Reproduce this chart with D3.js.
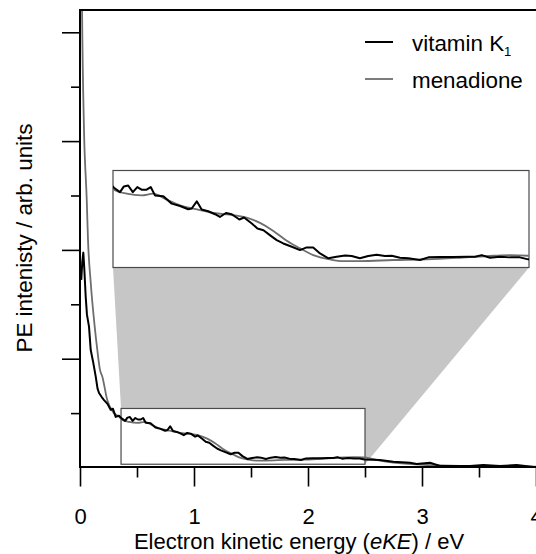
<!DOCTYPE html>
<meta charset="utf-8">
<style>
body { margin: 0; background: #fff; }
text { font-family: "Liberation Sans", Arial, sans-serif; }
.line { fill: none; stroke-linejoin: round; }
</style>
<svg width="536" height="554"></svg>
<script src="https://d3js.org/d3.v7.min.js"></script>
<script>

// vitamin K1 spectrum, [eKE / eV, intensity]
var vitK1 = [
  [0.011, 3.45], [0.020, 3.78], [0.029, 3.95], [0.038, 3.64], [0.050, 3.14], [0.061, 2.81],
  [0.079, 2.59], [0.094, 2.16], [0.117, 1.92], [0.138, 1.67], [0.154, 1.45], [0.167, 1.37],
  [0.189, 1.30], [0.211, 1.24], [0.241, 1.17], [0.269, 1.06], [0.289, 1.08], [0.313, 0.93],
  [0.342, 0.95],
  [0.365, 0.903], [0.396, 0.857], [0.416, 0.917], [0.438, 0.927], [0.462, 0.857], [0.485, 0.91],
  [0.507, 0.882], [0.533, 0.882], [0.554, 0.91], [0.576, 0.822], [0.619, 0.812], [0.662, 0.735],
  [0.705, 0.71], [0.747, 0.675], [0.765, 0.683], [0.791, 0.759], [0.816, 0.672], [0.850, 0.654],
  [0.885, 0.623], [0.910, 0.594], [0.941, 0.636], [0.971, 0.623], [1.010, 0.567], [1.034, 0.588],
  [1.074, 0.525], [1.103, 0.472], [1.134, 0.454], [1.167, 0.402], [1.202, 0.349], [1.236, 0.314],
  [1.280, 0.279], [1.322, 0.244], [1.356, 0.272], [1.390, 0.272], [1.425, 0.209], [1.468, 0.157],
  [1.510, 0.174], [1.554, 0.188], [1.588, 0.181], [1.630, 0.157], [1.673, 0.181], [1.716, 0.195],
  [1.759, 0.181], [1.794, 0.184], [1.836, 0.163], [1.879, 0.157], [1.939, 0.139], [1.982, 0.167],
  [2.042, 0.17], [2.110, 0.17], [2.179, 0.174], [2.222, 0.174], [2.257, 0.191], [2.299, 0.163],
  [2.351, 0.174], [2.402, 0.167], [2.453, 0.167], [2.496, 0.146],
  [2.630, 0.138], [2.748, 0.107], [2.895, 0.088], [2.954, 0.064], [3.070, 0.088], [3.158, 0.028],
  [3.304, 0.028], [3.421, 0.028], [3.538, 0.046], [3.684, 0.028], [3.830, 0.046], [4.0, 0.004]
];

// menadione spectrum
var menadione = [
  [0.012, 10], [0.018, 8.43], [0.035, 6.22], [0.059, 4.93], [0.070, 4.19], [0.094, 3.40],
  [0.129, 2.59], [0.152, 2.16], [0.175, 1.80], [0.196, 1.67], [0.239, 1.24], [0.298, 1.00],
  [0.345, 0.93],
  [0.365, 0.882], [0.431, 0.84], [0.507, 0.822], [0.567, 0.84], [0.636, 0.777], [0.705, 0.717],
  [0.773, 0.682], [0.876, 0.636], [0.979, 0.612], [1.047, 0.588], [1.116, 0.531], [1.185, 0.447],
  [1.254, 0.342], [1.322, 0.262], [1.390, 0.191], [1.476, 0.146], [1.545, 0.128], [1.630, 0.128],
  [1.802, 0.139], [1.974, 0.146], [2.145, 0.163], [2.316, 0.184], [2.402, 0.191], [2.496, 0.184],
  [2.60, 0.14], [2.748, 0.088], [3.041, 0.046], [3.333, 0.028], [4.0, 0.015]
];

var xMajor = [0, 1, 2, 3, 4],
    xMinor = [0.5, 1.5, 2.5, 3.5],
    yMajor = [2, 4, 6, 8],
    yMinor = [1, 3, 5, 7];

var zoomX = [0.36, 2.5],
    zoomY = [0.06, 1.085];

var series = [
  {name: "vitamin K", sub: "1", values: vitK1, color: "#000", width: 2},
  {name: "menadione", sub: "", values: menadione, color: "#6e6e6e", width: 1.8}
];

var svg = d3.select("svg"),
    plot = {left: 80, right: 536, top: 10, bottom: 467};

var x = d3.scaleLinear().domain([0, 4]).range([80, 536]),
    y = d3.scaleLinear().domain([0, 8]).range([467.5, 32.3]);

var xIn = d3.scaleLinear().domain(zoomX).range([113, 529]),
    yIn = d3.scaleLinear().domain(zoomY).range([267.5, 170.5]);

var defs = svg.append("defs");
defs.append("clipPath").attr("id", "clipMain")
  .append("rect")
    .attr("x", plot.left).attr("y", plot.top)
    .attr("width", plot.right - plot.left).attr("height", plot.bottom - plot.top);
defs.append("clipPath").attr("id", "clipIn")
  .append("rect")
    .attr("x", xIn.range()[0]).attr("y", yIn.range()[1])
    .attr("width", xIn.range()[1] - xIn.range()[0])
    .attr("height", yIn.range()[0] - yIn.range()[1]);

// grey connector between the zoom window and the inset
svg.append("polygon")
    .attr("points", [
      [xIn.range()[0], yIn.range()[0]],
      [xIn.range()[1], yIn.range()[0]],
      [x(zoomX[1]), y(zoomY[0])],
      [x(zoomX[0]), y(zoomY[1])]
    ].join(" "))
    .attr("fill", "#c6c6c6");

svg.append("rect")
    .attr("x", x(zoomX[0])).attr("y", y(zoomY[1]))
    .attr("width", x(zoomX[1]) - x(zoomX[0]))
    .attr("height", y(zoomY[0]) - y(zoomY[1]))
    .attr("fill", "#fff").attr("stroke", "#4a4a4a").attr("stroke-width", 1.2);

var lineMain = d3.line().x(function(d) { return x(d[0]); }).y(function(d) { return y(d[1]); }),
    lineIn = d3.line().x(function(d) { return xIn(d[0]); }).y(function(d) { return yIn(d[1]); });

var main = svg.append("g").attr("clip-path", "url(#clipMain)");
series.slice().reverse().forEach(function(s) {
  main.append("path")
      .attr("class", "line")
      .attr("d", lineMain.curve(s.sub ? d3.curveLinear : d3.curveMonotoneX)(s.values))
      .attr("stroke", s.color)
      .attr("stroke-width", s.width);
});

// inset
svg.append("rect")
    .attr("x", xIn.range()[0]).attr("y", yIn.range()[1])
    .attr("width", xIn.range()[1] - xIn.range()[0])
    .attr("height", yIn.range()[0] - yIn.range()[1])
    .attr("fill", "#fff").attr("stroke", "#4a4a4a").attr("stroke-width", 1.2);

var inset = svg.append("g").attr("clip-path", "url(#clipIn)");
series.slice().reverse().forEach(function(s) {
  inset.append("path")
      .attr("class", "line")
      .attr("d", lineIn.curve(s.sub ? d3.curveLinear : d3.curveMonotoneX)(s.values))
      .attr("stroke", s.color)
      .attr("stroke-width", s.width);
});

// axes
function styleAxis(g) {
  g.select(".domain").remove();
  g.selectAll("line").attr("stroke", "#000").attr("stroke-width", 1.6);
  g.selectAll("text").attr("font-size", 22).attr("fill", "#000")
    .attr("font-family", "Liberation Sans, Arial, sans-serif");
}

svg.append("g")
    .attr("transform", "translate(0," + plot.bottom + ")")
    .call(d3.axisBottom(x).tickValues(xMajor).tickSize(19.5).tickPadding(22).tickFormat(d3.format("d")))
    .call(styleAxis);
svg.append("g")
    .attr("transform", "translate(0," + plot.bottom + ")")
    .call(d3.axisBottom(x).tickValues(xMinor).tickSize(10.5).tickFormat(""))
    .call(styleAxis);
svg.append("g")
    .attr("transform", "translate(" + plot.left + ",0)")
    .call(d3.axisLeft(y).tickValues(yMajor).tickSize(18).tickFormat(""))
    .call(styleAxis);
svg.append("g")
    .attr("transform", "translate(" + plot.left + ",0)")
    .call(d3.axisLeft(y).tickValues(yMinor).tickSize(9).tickFormat(""))
    .call(styleAxis);

svg.append("path")
    .attr("d", "M" + plot.right + "," + plot.top + "H" + plot.left + "V" + plot.bottom + "H" + plot.right)
    .attr("fill", "none").attr("stroke", "#000").attr("stroke-width", 2);

var xTitle = svg.append("text")
    .attr("x", 299).attr("y", 549)
    .attr("text-anchor", "middle")
    .attr("font-size", 22);
xTitle.append("tspan").text("Electron kinetic energy (");
xTitle.append("tspan").attr("font-style", "italic").text("eKE");
xTitle.append("tspan").text(") / eV");

svg.append("text")
    .attr("transform", "translate(32,238) rotate(-90)")
    .attr("text-anchor", "middle")
    .attr("font-size", 22.4)
    .text("PE intenisty / arb. units");

// legend
var legend = svg.selectAll(".legend")
    .data(series)
  .enter().append("g")
    .attr("class", "legend")
    .attr("transform", function(d, i) { return "translate(365," + (42 + i * 37) + ")"; });

legend.append("line")
    .attr("x1", 0).attr("x2", 28)
    .attr("stroke", function(d) { return d.color; })
    .attr("stroke-width", function(d) { return d.width; });

var lt = legend.append("text")
    .attr("x", 47).attr("y", 8.5)
    .attr("font-size", 22.4);
lt.append("tspan").text(function(d) { return d.name; });
lt.append("tspan")
    .attr("font-size", 13).attr("dy", 5)
    .text(function(d) { return d.sub; });

</script>
